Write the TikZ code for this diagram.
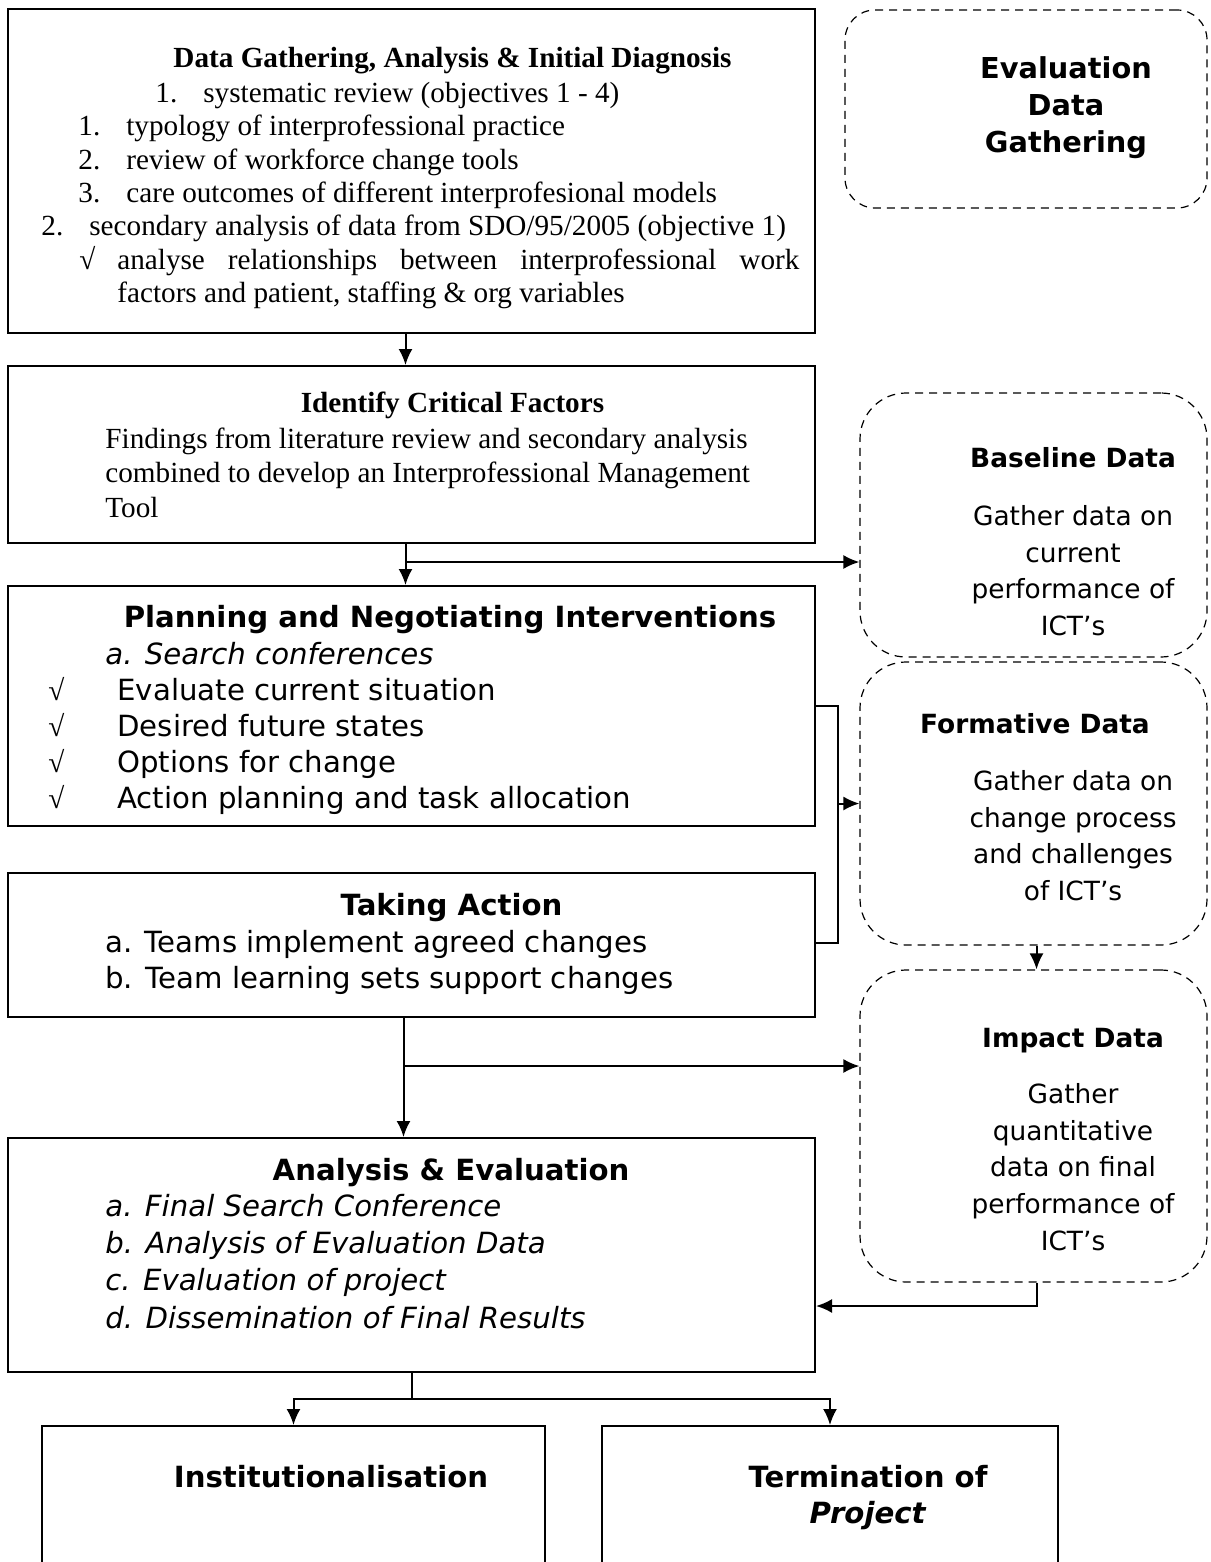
\documentclass[tikz,border=0pt]{standalone}
\usepackage{fontspec}
\setmainfont{Liberation Serif}
\setsansfont{DejaVu Sans}
\usetikzlibrary{arrows.meta,positioning}

\newcommand{\numline}[3]{\hspace*{#1}\makebox[24pt][l]{#2}#3}
\newcommand{\tick}{\makebox[34.5pt][l]{\rmfamily √}}

\tikzset{
  box/.style={draw, line width=1pt, inner sep=0pt},
  evalbox/.style={draw, dash pattern=on 4pt off 3pt, line width=0.6pt, rounded corners=23pt, inner sep=0pt},
  arr/.style={line width=1pt, -{Latex[length=8pt,width=7pt]}},
  serifbody/.style={inner sep=0pt, align=left, anchor=north west, font=\fontsize{14.6}{16.7}\selectfont},
  seriftitle/.style={inner sep=0pt, anchor=base, font=\fontsize{14.6}{16.7}\selectfont\bfseries},
  sansbody/.style={inner sep=0pt, align=left, anchor=north west, font=\sffamily\fontsize{14.6}{18}\selectfont},
  sanstitle/.style={inner sep=0pt, anchor=base, font=\sffamily\bfseries\fontsize{14.6}{18}\selectfont},
  sidetitle/.style={inner sep=0pt, anchor=base, font=\sffamily\bfseries\fontsize{13.2}{18.35}\selectfont},
  sidebody/.style={inner sep=0pt, align=center, anchor=north, font=\sffamily\fontsize{13.2}{18.35}\selectfont}
}

\begin{document}
\begin{tikzpicture}[x=0.5pt, y=-0.5pt]
  \useasboundingbox (0,0) rectangle (1210,1562);
  \clip (0,0) rectangle (1210,1562);

  % main column
  \node[box, minimum width=403.5pt, minimum height=162pt] (gather) at (411.5,171) {};
  \node[box, minimum width=403.5pt, minimum height=88.5pt] (critical) at (411.5,454.5) {};
  \node[box, minimum width=403.5pt, minimum height=120pt] (plan) at (411.5,706) {};
  \node[box, minimum width=403.5pt, minimum height=72pt] (action) at (411.5,945) {};
  \node[box, minimum width=403.5pt, minimum height=117pt] (analysis) at (411.5,1255) {};
  \node[box, minimum width=251.5pt, minimum height=87pt] (inst) at (293.5,1513) {};
  \node[box, minimum width=228pt, minimum height=87pt] (term) at (830,1513) {};

  % evaluation column
  \node[evalbox, rounded corners=15pt, minimum width=181pt, minimum height=99pt] (evaldata) at (1026,109) {};
  \node[evalbox, minimum width=173.5pt, minimum height=132pt] (baseline) at (1033.5,525) {};
  \node[evalbox, minimum width=173.5pt, minimum height=141.5pt] (formative) at (1033.5,803.5) {};
  \node[evalbox, minimum width=173.5pt, minimum height=156pt] (impact) at (1033.5,1126) {};

  % texts
  \node[seriftitle] (gathertitle) at (452.5,68) {Data Gathering, Analysis \& Initial Diagnosis};
  \node[serifbody] (gatherlist) at (41,78.6) {\strut\numline{57pt}{1.}{systematic review (objectives 1 - 4)}\\
    \numline{18.5pt}{1.}{typology of interprofessional practice}\\
    \numline{18.5pt}{2.}{review of workforce change tools}\\
    \numline{18.5pt}{3.}{care outcomes of different interprofesional models}\\
    \numline{0pt}{2.}{secondary analysis of data from SDO/95/2005 (objective 1)}\\
    \hspace*{19pt}\makebox[19pt][l]{√}\makebox[341pt][s]{analyse relationships between interprofessional work}\\
    \hspace*{38pt}factors and patient, staffing \& org variables};

  \node[seriftitle] (criticaltitle) at (452.5,412) {Identify Critical Factors};
  \node[serifbody, font=\fontsize{14.6}{17.25}\selectfont] (criticaltxt) at (105,423.85) {\strut Findings from literature review and secondary analysis\\
    combined to develop an Interprofessional Management\\
    Tool};

  \node[sanstitle] (plantitle) at (450,627) {Planning and Negotiating Interventions};
  \node[sansbody] (plantxt) at (48,638.8) {\strut\hspace*{28.5pt}\textit{a. Search conferences}\\
    \tick Evaluate current situation\\
    \tick Desired future states\\
    \tick Options for change\\
    \tick Action planning and task allocation};

  \node[sanstitle] (actiontitle) at (451.5,915) {Taking Action};
  \node[sansbody] (actiontxt) at (105,926.8) {\strut a. Teams implement agreed changes\\
    b. Team learning sets support changes};

  \node[sanstitle] (analysistitle) at (451,1180) {Analysis \& Evaluation};
  \node[sansbody, font=\sffamily\itshape\fontsize{14.6}{18.6}\selectfont] (analysistxt) at (105,1190) {\strut a. Final Search Conference\\
    b. Analysis of Evaluation Data\\
    c. Evaluation of project\\
    d. Dissemination of Final Results};

  \node[sanstitle] (insttitle) at (331,1487) {Institutionalisation};
  \node[sanstitle, anchor=north, align=center] (termtitle) at (868,1461.8) {\strut Termination of\\ \textit{Project}};

  \node[sidebody, font=\sffamily\bfseries\fontsize{14.4}{18.5}\selectfont] (evaltitle) at (1066,52.1) {\strut Evaluation\\ Data\\ Gathering};
  \node[sidetitle] (baselinetitle) at (1073,467) {Baseline Data};
  \node[sidebody] (baselinetxt) at (1073,499.3) {\strut Gather data on\\ current\\ performance of\\ ICT’s};
  \node[sidetitle] (formativetitle) at (1035,733) {Formative Data};
  \node[sidebody] (formativetxt) at (1073,764.3) {\strut Gather data on\\ change process\\ and challenges\\ of ICT’s};
  \node[sidetitle] (impacttitle) at (1073,1047) {Impact Data};
  \node[sidebody] (impacttxt) at (1073,1077.3) {\strut Gather\\ quantitative\\ data on final\\ performance of\\ ICT’s};

  % connectors
  \coordinate (tobase) at (405,562);
  \coordinate (fbtop) at (838,706);
  \coordinate (fbbot) at (838,943);
  \coordinate (tofor) at (838,803.5);
  \coordinate (toimpact) at (403.5,1066);
  \coordinate (back) at (800,1306);
  \coordinate (split) at (411.5,1399);

  \draw[arr] ([xshift=-3pt]gather.south) -- ([xshift=-3pt]critical.north);
  \draw[arr] ([xshift=-3pt]critical.south) -- ([xshift=-3pt]plan.north);
  \draw[arr] (tobase) -- (tobase -| baseline.west);
  \draw[line width=1pt] (plan.east |- fbtop) -- (fbtop) -- (fbbot) -- (action.east |- fbbot);
  \draw[arr] (tofor) -- (formative.west);
  \draw[arr] ([xshift=1.5pt]formative.south) -- ([xshift=1.5pt]impact.north);
  \draw[arr] ([xshift=-4pt]action.south) -- ([xshift=-4pt]analysis.north);
  \draw[arr] (toimpact) -- (toimpact -| impact.west);
  \draw[arr] ([xshift=1.5pt]impact.south) |- (analysis.east |- back);
  \draw[line width=1pt] (analysis.south) -- (split);
  \draw[arr] (split) -| (inst.north);
  \draw[arr] (split) -| (term.north);
\end{tikzpicture}
\end{document}
